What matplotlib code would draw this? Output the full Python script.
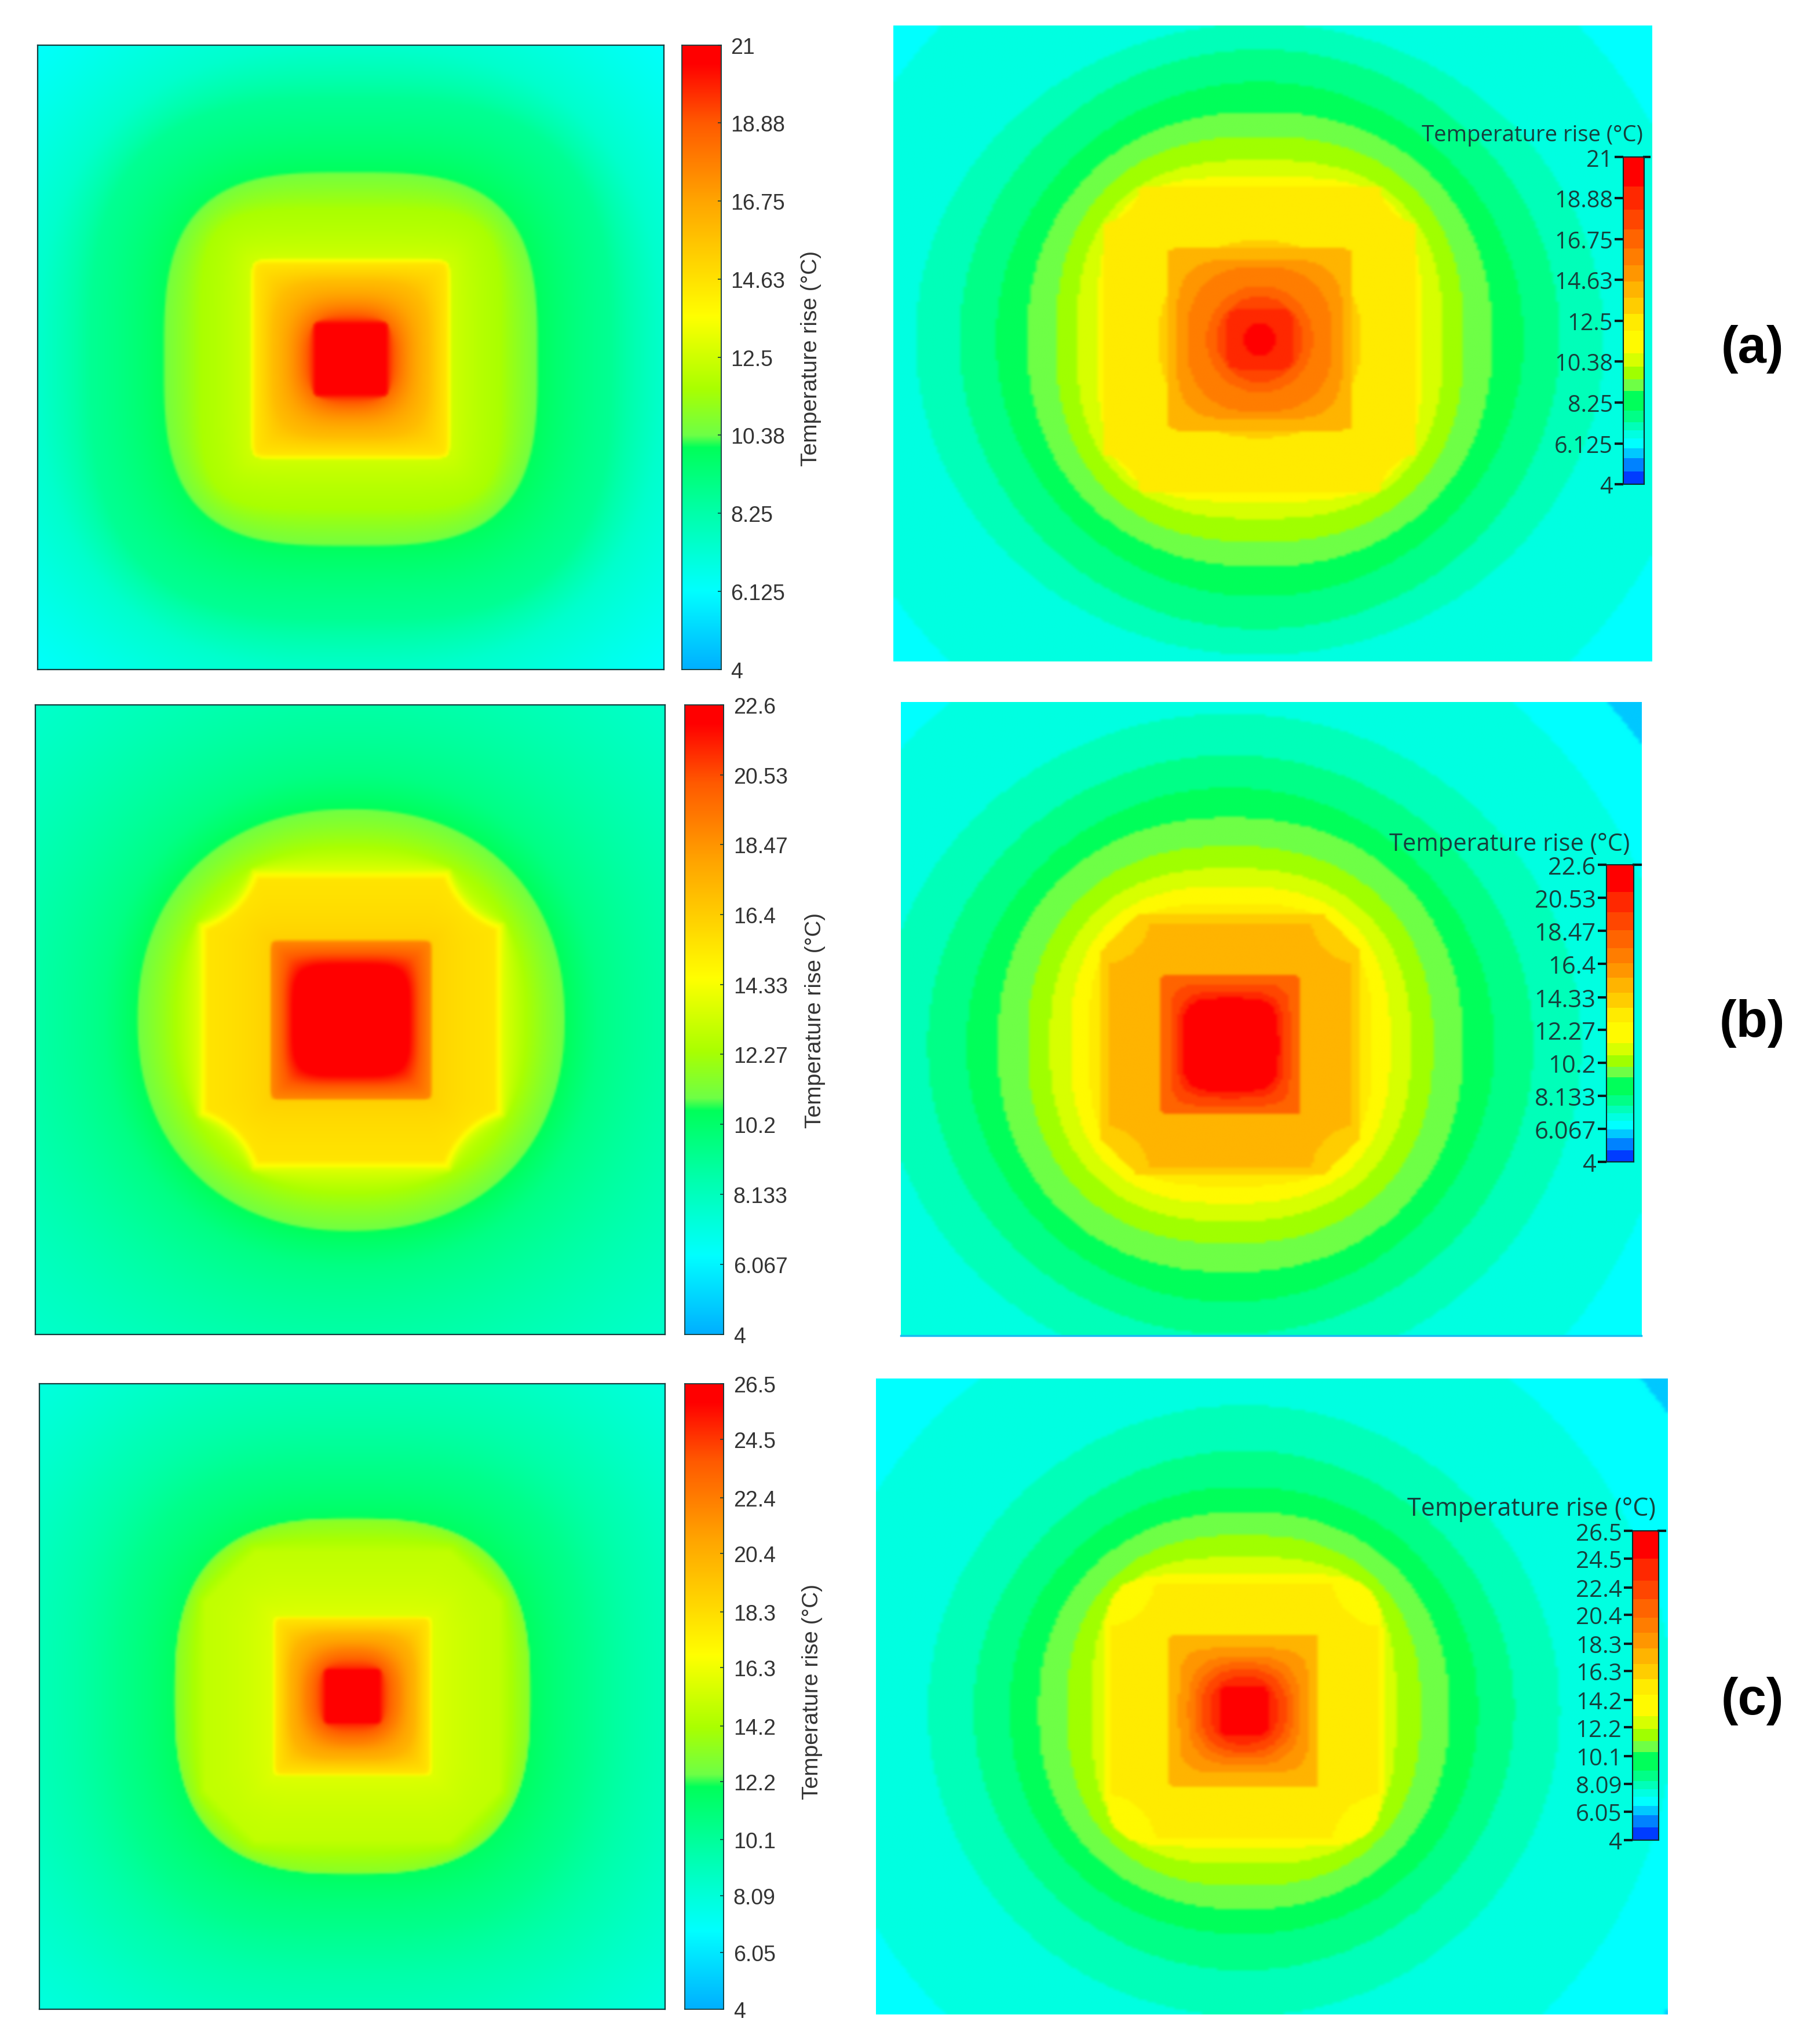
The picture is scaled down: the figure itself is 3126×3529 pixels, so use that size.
import numpy as np
import matplotlib
matplotlib.use("Agg")
import matplotlib.pyplot as plt
from matplotlib.colors import LinearSegmentedColormap, ListedColormap, BoundaryNorm, Normalize

# ---------- data ----------
TMAX_A, TMAX_B, TMAX_C = 21.0, 22.6, 26.5
TICKS_A = ["4", "6.125", "8.25", "10.38", "12.5", "14.63", "16.75", "18.88", "21"]
TICKS_B = ["4", "6.067", "8.133", "10.2", "12.27", "14.33", "16.4", "18.47", "20.53", "22.6"]
TICKS_C = ["4", "6.05", "8.09", "10.1", "12.2", "14.2", "16.3", "18.3", "20.4", "22.4", "24.5", "26.5"]
CBAR_LABEL = "Temperature rise (°C)"
PANEL_LABELS = ["(a)", "(b)", "(c)"]

# Isotherms of the smooth maps: half-width, half-height, roundness, corner cut, colour-scale fraction
SMOOTH_A = [(340, 340, 2, None, .13), (240, 240, 2.5, None, .20), (200, 200, 3, None, .28),
            (145, 145, 3.2, None, .35), (142, 142, 3.2, None, .385), (115, 115, 5, None, .45),
            (78, 78, 14, None, .50), (76, 76, 30, None, .565), (73, 73, 30, None, .62),
            (60, 60, 4, None, .70), (50, 50, 3, None, .75), (36, 36, 2.6, None, .85),
            (29, 29, 14, None, .93), (27, 27, 14, None, .975)]
SMOOTH_B = [(345, 345, 2, None, .20), (250, 250, 2.1, None, .25), (190, 190, 2.15, None, .30),
            (165, 163, 2.2, None, .355), (163, 161, 2.2, None, .38), (135, 133, 2.4, None, .45),
            (117, 115, 8, (135, 133, 62), .52), (114, 112, 30, (135, 133, 65), .565),
            (110, 108, 30, (135, 133, 69), .62), (63, 62, 30, None, .66), (61, 60.5, 30, None, .80),
            (44, 42, 4.5, None, .98)]
SMOOTH_C = [(345, 345, 2, None, .17), (240, 240, 2.5, None, .23), (180, 180, 2.8, None, .29),
            (138, 138, 2.8, None, .345), (135, 135, 2.8, None, .41), (113, 111, 30, 185, .48),
            (62, 62, 30, None, .52), (60.5, 61, 30, None, .565), (58.5, 59, 30, None, .62),
            (48, 48, 4, None, .72), (36, 36, 2.6, None, .81), (27, 27, 3, None, .88),
            (22, 21, 14, None, .94), (20.5, 20, 14, None, .985)]

# Contour bands of the stepped maps: half-width, half-height, roundness, corner cut, band number
BANDS_A = [(344, 344, 2, None, 4), (265, 243, 2, None, 5), (231, 223, 2, None, 6), (203, 198, 2, None, 7),
           (179, 175, 2.2, None, 8), (157, 156, 2.4, None, 9), (141, 138, 2.6, None, 10),
           (125, 125, 3.5, None, 11), (120, 117, 30, (126, 123, 34.5), 12), (78, 76, 2.2, None, 13),
           (71, 70, 30, None, 14), (64, 62, 4, None, 15), (56, 56, 2.5, None, 16),
           (41, 41, 2, None, 17), (33, 33, 2, None, 18), (25, 23, 8, None, 19), (12, 13, 2, None, 20)]
BANDS_B = [(392, 392, 2, None, 3), (341, 341, 2, None, 4), (270, 255, 2, None, 5), (233, 223, 2, None, 6),
           (203, 198, 2, None, 7), (179, 175, 2.2, None, 8), (156, 153, 2.3, None, 9),
           (139, 136, 2.4, None, 10), (123, 122, 2.6, None, 11), (109, 109, 3, None, 12),
           (100, 100, 30, 172, 13), (94, 94, 30, (100, 100, 38), 14), (53.5, 53.6, 30, None, 17),
           (46, 47, 6, None, 18), (41, 41, 4, None, 19), (37, 36, 4, None, 20)]
BANDS_C = [(398, 398, 2, None, 3), (330, 325, 2, None, 4), (243, 235, 2, None, 5), (208, 200, 2, None, 6),
           (180, 172, 2.1, None, 7), (158, 153, 2.2, None, 8), (136, 135, 2.4, None, 9),
           (117, 118, 3, None, 10), (108, 105, 6, None, 11), (103, 98, 30, (108, 105, 40.5), 12),
           (57.5, 59, 30, None, 14), (50, 48, 5, None, 15), (43, 42, 3, None, 16), (38, 37, 2.5, None, 17),
           (33, 32, 2.4, None, 18), (26, 26, 2.4, None, 19), (19, 19, 6, None, 20)]

# Left colour scale: fraction of the range, colour
SMOOTH_STOPS = [(0, (0, 175, 255)), (.125, (0, 255, 255)), (.25, (0, 255, 170)), (.355, (0, 255, 90)),
                (.375, (110, 255, 70)), (.45, (170, 255, 0)), (.565, (255, 255, 0)), (.75, (255, 165, 0)),
                (.875, (255, 90, 0)), (.97, (255, 0, 0)), (1, (255, 0, 0))]
# Right colour scale: lower edge of each band (fraction of range), band colour
BAND_EDGES = [0, .04, .08, .11, .14, .165, .19, .225, .285, .32, .36, .40, .47, .52, .57, .62, .67, .72, .78, .84, .91, 1]
BAND_COLOURS = [(0, 60, 255), (0, 130, 255), (0, 200, 255), (0, 255, 255), (0, 255, 225), (0, 255, 185),
                (0, 255, 135), (0, 255, 90), (110, 255, 70), (160, 255, 0), (215, 255, 0), (255, 250, 0),
                (255, 235, 0), (255, 205, 0), (255, 180, 0), (255, 150, 0), (255, 125, 0), (255, 100, 0),
                (255, 70, 0), (255, 40, 0), (255, 0, 0)]

# ---------- layout (in units of the 1389-wide view) ----------
W, H = 3126, 3530
U = W / 1389.0
SMOOTH_PANELS = [
    dict(box=(29, 35, 509, 514), cen=(269, 276), bar=(523, 553), lab=622, laby=275, pad=12),
    dict(box=(27, 541, 510, 1024), cen=(269, 783), bar=(525, 555), lab=625, laby=783, pad=12),
    dict(box=(30, 1062, 510, 1542), cen=(270, 1302), bar=(525, 555), lab=623, laby=1298, pad=12),
]
BAND_PANELS = [
    dict(box=(685, 20, 1267, 508), cen=(966, 261), bar=(1245, 121, 1261, 372), title=(1260, 104), size=28.5, ts=27.5),
    dict(box=(691, 539, 1259, 1025), cen=(943.5, 802), bar=(1232, 664, 1253, 892), title=(1250, 648), size=30, ts=30),
    dict(box=(672, 1058, 1279, 1546), cen=(954, 1313), bar=(1252, 1175, 1272, 1412), title=(1270, 1158), size=29, ts=31),
]
LABEL_POS = [(1344, 268), (1344, 785), (1344, 1305)]

plt.rcParams["font.family"] = ["Liberation Sans", "DejaVu Sans"]
fig = plt.figure(figsize=(W / 100, H / 100), dpi=100, facecolor="white")


def add_axes(x0, y0, x1, y1):
    return fig.add_axes([x0 * U / W, 1 - y1 * U / H, (x1 - x0) * U / W, (y1 - y0) * U / H])


def shape_metric(X, Y, a, b, p, c):
    AX, AY = np.abs(X), np.abs(Y)
    m = ((AX / a) ** p + (AY / b) ** p) ** (1.0 / p)
    if isinstance(c, tuple):
        m = np.maximum(m, c[2] / np.maximum(np.hypot(AX - c[0], AY - c[1]), 1e-6))
    elif c is not None:
        m = np.maximum(m, (AX + AY) / c)
    return m


def grid(extent, n):
    x = np.linspace(extent[0], extent[1], n)
    y = np.linspace(extent[2], extent[3], n)
    return np.meshgrid(x, y)


def smooth_field(X, Y, layers, tmax):
    t = [4 + l[4] * (tmax - 4) for l in layers]
    field = np.full(X.shape, t[0])
    for i in range(len(layers) - 1):
        d_out = shape_metric(X, Y, *layers[i][:4])
        d_in = shape_metric(X, Y, *layers[i + 1][:4])
        mask = d_out <= 1
        w = np.clip((d_in - 1) / np.maximum((d_in - 1) + (1 - d_out), 1e-9), 0, 1)
        field[mask] = (t[i + 1] + (t[i] - t[i + 1]) * w)[mask]
    return field


def band_field(X, Y, layers, tmax, edges):
    centres = 0.5 * (edges[:-1] + edges[1:])
    base = layers[0][4] - 1
    field = np.full(X.shape, centres[base])
    for a, b, p, c, idx in layers:
        field[shape_metric(X, Y, a, b, p, c) <= 1] = centres[idx]
    return field


smooth_cmap = LinearSegmentedColormap.from_list(
    "smooth", [(f, tuple(v / 255 for v in c)) for f, c in SMOOTH_STOPS], N=1024)
band_cmap = ListedColormap([tuple(v / 255 for v in c) for c in BAND_COLOURS])

TMAXS = [TMAX_A, TMAX_B, TMAX_C]
TICKS = [TICKS_A, TICKS_B, TICKS_C]
SMOOTH = [SMOOTH_A, SMOOTH_B, SMOOTH_C]
BANDS = [BANDS_A, BANDS_B, BANDS_C]
EDGE = "#123c3c"

for k in range(3):
    tmax = TMAXS[k]
    tick_vals = [float(s) for s in TICKS[k]]

    # ---- left: smooth map and its colour bar ----
    P = SMOOTH_PANELS[k]
    x0, y0, x1, y1 = P["box"]
    ext = (x0 - P["cen"][0], x1 - P["cen"][0], y1 - P["cen"][1], y0 - P["cen"][1])
    ax = add_axes(x0, y0, x1, y1)
    X, Y = grid(ext, 300)
    norm = Normalize(4, tmax)
    ax.imshow(smooth_field(X, Y, SMOOTH[k], tmax), cmap=smooth_cmap, norm=norm, extent=ext,
              origin="lower", aspect="auto", interpolation="bicubic", interpolation_stage="rgba")
    ax.set_xticks([]); ax.set_yticks([])
    for s in ax.spines.values():
        s.set_color(EDGE); s.set_linewidth(1.6)

    cax = add_axes(P["bar"][0], y0, P["bar"][1], y1)
    grad = np.linspace(4, tmax, 1024).reshape(-1, 1)
    cax.imshow(grad, cmap=smooth_cmap, norm=norm, extent=(0, 1, 4, tmax), origin="lower", aspect="auto")
    cax.set_xticks([])
    cax.yaxis.tick_right()
    cax.set_yticks(tick_vals, TICKS[k])
    cax.tick_params(axis="y", direction="in", length=4, width=1.2, pad=P["pad"], labelsize=27, labelcolor="#333333", color=EDGE)
    for s in cax.spines.values():
        s.set_color(EDGE); s.set_linewidth(1.3)
    fig.text(P["lab"] * U / W, 1 - P["laby"] * U / H, CBAR_LABEL, rotation=90, ha="center", va="center",
             fontsize=28, color="#333333")

    # ---- right: stepped map and its colour bar ----
    Q = BAND_PANELS[k]
    x0, y0, x1, y1 = Q["box"]
    ext = (x0 - Q["cen"][0], x1 - Q["cen"][0], y1 - Q["cen"][1], y0 - Q["cen"][1])
    ax = add_axes(x0, y0, x1, y1)
    X, Y = grid(ext, 260)
    edges = 4 + np.array(BAND_EDGES) * (tmax - 4)
    bnorm = BoundaryNorm(edges, band_cmap.N)
    ax.imshow(band_field(X, Y, BANDS[k], tmax, edges), cmap=band_cmap, norm=bnorm, extent=ext,
              origin="lower", aspect="auto", interpolation="bicubic", interpolation_stage="rgba")
    ax.set_xticks([]); ax.set_yticks([])
    for s in ax.spines.values():
        s.set_visible(False)
    if k == 1:
        ax.spines["bottom"].set_visible(True)
        ax.spines["bottom"].set_color("#19bdf0")
        ax.spines["bottom"].set_linewidth(2.5)

    b = Q["bar"]
    cax = add_axes(b[0], b[1], b[2], b[3])
    cax.pcolormesh([0, 1], edges, np.arange(len(BAND_COLOURS)).reshape(-1, 1), cmap=band_cmap,
                   vmin=-.5, vmax=len(BAND_COLOURS) - .5)
    cax.set_xticks([])
    cax.set_ylim(4, tmax)
    cax.set_yticks(tick_vals, TICKS[k], fontfamily="Open Sans")
    cax.tick_params(axis="y", direction="out", length=11, width=3, pad=2, labelsize=Q["size"],
                    labelcolor="#16403c", color="#0a1a1a")
    cax.patch.set_alpha(0)
    for name, s in cax.spines.items():
        s.set_color("#0a2a2a"); s.set_linewidth(1.5)
    cax.plot([1, 1.25], [tmax, tmax], transform=cax.get_yaxis_transform(), clip_on=False, color="#0a1a1a", lw=3)
    fig.text(Q["title"][0] * U / W, 1 - Q["title"][1] * U / H, CBAR_LABEL, ha="right", va="center",
             fontsize=Q["ts"], color="#16403c", fontfamily="Open Sans")

    # ---- panel label ----
    fig.text(LABEL_POS[k][0] * U / W, 1 - LABEL_POS[k][1] * U / H, PANEL_LABELS[k], ha="center", va="center",
             fontsize=64, fontweight="bold", color="black")

fig.savefig("out.png", dpi=100, facecolor="white")
